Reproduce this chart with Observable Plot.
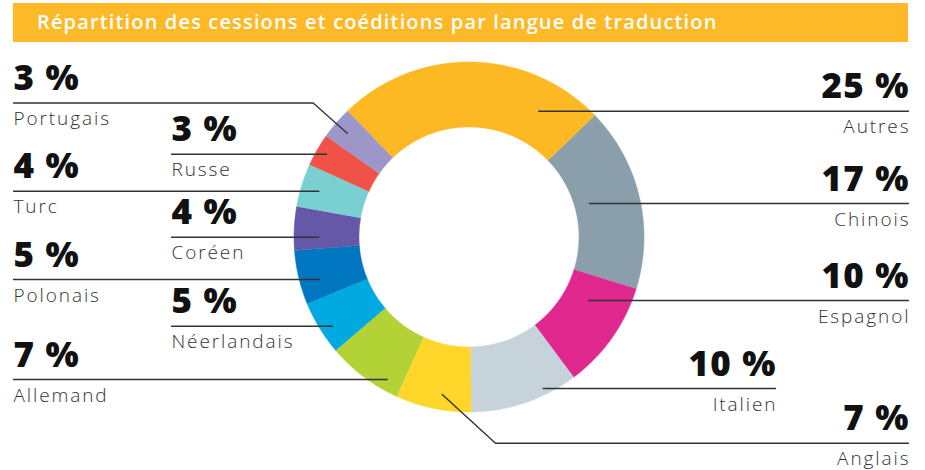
<!DOCTYPE html>
<html><head><meta charset="utf-8">
<script src="https://cdn.jsdelivr.net/npm/d3@7"></script>
<script src="https://cdn.jsdelivr.net/npm/@observablehq/plot@0.6"></script>
<style>
body{margin:0;background:#fff;}
#wrap{position:relative;width:925px;height:470px;overflow:hidden;}
#title{position:absolute;left:13px;top:3px;width:895px;height:39px;background:#FDB927;color:#fff;font-family:"Open Sans";font-weight:600;font-size:20px;letter-spacing:1.15px;box-sizing:border-box;padding-left:24px;line-height:37px;white-space:nowrap;}
#chart{position:absolute;left:0;top:0;}
g[font-weight="800"] text{letter-spacing:1.2px;}
g[font-weight="300"] text{letter-spacing:1.9px;}
</style></head><body>
<div id="wrap"><div id="chart"></div><div id="title">Répartition des cessions et coéditions par langue de traduction</div></div>
<script>
// ---- data ----
const languages = ["Autres","Chinois","Espagnol","Italien","Anglais","Allemand","Néerlandais","Polonais","Coréen","Turc","Russe","Portugais"];
const shares = [25,17,10,10,7,7,5,5,4,4,3,3];
const colors = ["#FDB924","#8A9FAB","#E0288E","#C6D3DB","#FFD629","#B2D235","#00AAE0","#0077C0","#6558A8","#7ACFD1","#F05247","#9D97C9"];
const shareLabels = shares.map(v => `${v} %`);

// ---- layout (label placement) ----
const labelX =      [908, 908, 908, 775, 908, 13, 171, 13, 171, 13, 171, 13];
const labelAnchor = ["end","end","end","end","end","start","start","start","start","start","start","start"];
const lineY =       [110.7, 203, 300, 388, 442.7, 379, 325.7, 279, 236.7, 190.7, 153.7, 102.5];
const leaderEndX =  [538.3, 589, 588.3, 542.7, 495, 386.7, 331.7, 319, 318.3, 318.3, 326, 312.7];
const leaderTip =   [null, null, null, null, [441.7, 394], null, null, null, null, null, null, [346.7, 132.7]];

const cx = 468.5, cy = 236.5, R = 175, r = 110, startDeg = -44;

// donut polygons
const total = d3.sum(shares);
const donut = [];
let acc = 0;
languages.forEach((name, i) => {
  const a0 = startDeg + acc / total * 360;
  acc += shares[i];
  const a1 = startDeg + acc / total * 360;
  const n = Math.max(2, Math.ceil((a1 - a0) / 0.5));
  const pt = (a, rad) => { const t = a * Math.PI / 180; return {name, x: cx + rad * Math.sin(t), y: cy - rad * Math.cos(t)}; };
  for (let k = 0; k <= n; k++) donut.push(pt(a0 + (a1 - a0) * k / n, R));
  for (let k = n; k >= 0; k--) donut.push(pt(a0 + (a1 - a0) * k / n, r));
});

const labels = languages.map((name, i) => ({name, pct: shareLabels[i], x: labelX[i], anchor: labelAnchor[i], ly: lineY[i]}));
const leaders = [];
languages.forEach((name, i) => {
  leaders.push({name, x: labelX[i], y: lineY[i]});
  leaders.push({name, x: leaderEndX[i], y: lineY[i]});
  if (leaderTip[i]) leaders.push({name, x: leaderTip[i][0], y: leaderTip[i][1]});
});

const startL = labels.filter(d => d.anchor === "start");
const endL = labels.filter(d => d.anchor === "end");
const pctStyle = {fontFamily: "Open Sans", fontWeight: 800, fontSize: 35, fill: "#111", lineAnchor: "bottom"};
const nameStyle = {fontFamily: "Open Sans", fontWeight: 300, fontSize: 19, fill: "#333", lineAnchor: "bottom"};

const chart = Plot.plot({
  width: 925, height: 470, margin: 0,
  x: {domain: [0, 925], range: [0, 925], axis: null},
  y: {domain: [0, 470], range: [0, 470], axis: null},
  color: {domain: languages, range: colors},
  marks: [
    Plot.line(donut, {x: "x", y: "y", z: "name", fill: "name", stroke: "name", strokeWidth: 0.5, curve: "linear"}),
    Plot.line(leaders, {x: "x", y: "y", z: "name", stroke: "#333", strokeWidth: 1.4}),
    Plot.text(startL, {x: "x", y: d => d.ly - 13, text: "pct", textAnchor: "start", ...pctStyle}),
    Plot.text(endL, {x: "x", y: d => d.ly - 13, text: "pct", textAnchor: "end", dx: 1.2, ...pctStyle}),
    Plot.text(startL, {x: "x", y: d => d.ly + 22, text: "name", textAnchor: "start", ...nameStyle}),
    Plot.text(endL, {x: "x", y: d => d.ly + 22, text: "name", textAnchor: "end", dx: 1.9, ...nameStyle})
  ]
});
document.getElementById("chart").appendChild(chart);
</script>
</body></html>
